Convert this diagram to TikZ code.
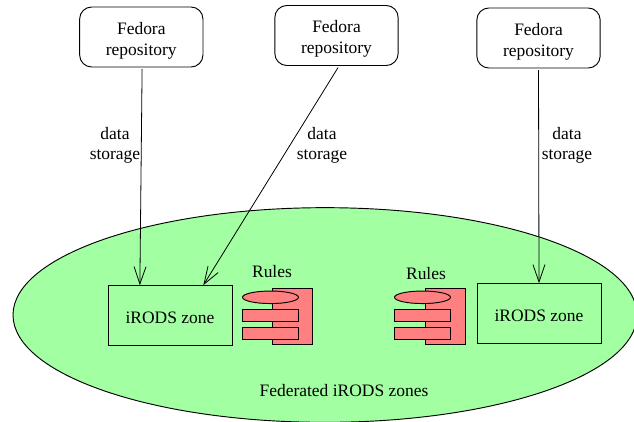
\documentclass[tikz,border=0pt]{standalone}
\usepackage{fontspec}
\setmainfont{Liberation Serif}
\usetikzlibrary{arrows.meta, positioning, shapes.geometric}

\definecolor{zonegreen}{HTML}{A2FFA2}
\definecolor{rulered}{HTML}{FF8080}

\newcommand{\fedorarepo}{\rule{0pt}{14.6pt}Fedora\\repository}

\begin{document}
\begin{tikzpicture}[
    x=0.75pt,
    y=-0.75pt,
    font=\fontsize{13.1}{15.6}\selectfont,
    every node/.append style={outer sep=0pt, inner sep=0pt},
    repo/.style={draw, rounded corners=9pt, line width=0.7pt, minimum width=92.5pt, minimum height=45pt, align=center},
    zone/.style={draw, line width=0.7pt, minimum width=93pt, minimum height=45.5pt, text height=12pt},
    label/.style={align=center, font=\fontsize{13.1}{15}\selectfont},
    rulebody/.style={draw, fill=rulered, line width=0.7pt, minimum width=30pt, minimum height=42pt},
    rulebar/.style={draw, fill=rulered, line width=0.7pt, minimum width=42pt, minimum height=9pt},
    ruleoval/.style={draw, fill=rulered, ellipse, line width=0.7pt, minimum width=42pt, minimum height=9.4pt},
    store/.style={-{Straight Barb[length=13pt,width=9pt]}, line width=0.6pt}
]
   \useasboundingbox (0,0) rectangle (634,421);

   % Federation
   \node[draw, ellipse, fill=zonegreen, line width=0.7pt, minimum width=468pt, minimum height=161pt] (fed) at (325,315) {};
   \node (fedlabel) at (344,391) {Federated iRODS zones};

   % Repositories
   \node[repo] (repoa) at (141.3,37) {\fedorarepo};
   \node[repo] (repob) at (336.5,35.5) {\fedorarepo};
   \node[repo] (repoc) at (538.5,38) {\fedorarepo};

   % Zones
   \node[zone] (zonea) at (170,315.5) {iRODS zone};
   \node[zone] (zoneb) at (539,313.5) {iRODS zone};

   % Rules, left
   \node[rulebody] (bodya) at (292.7,316) {};
   \node[ruleoval] (ovala) at (270.5,297.3) {};
   \node[rulebar] (bara) at (270.5,315.6) {};
   \node[rulebar] (barb) at (270.5,333.6) {};
   \node (rulesa) at (272,272) {Rules};

   % Rules, right
   \node[rulebody] (bodyb) at (445.2,316) {};
   \node[ruleoval] (ovalb) at (422.5,297.3) {};
   \node[rulebar] (barc) at (422.5,315.6) {};
   \node[rulebar] (bard) at (422.5,333.6) {};
   \node (rulesb) at (426,274) {Rules};

   % Storage links
   \draw[store] ([xshift=0.6pt,yshift=-1.5pt]repoa.south) -- ([xshift=-22.6pt]zonea.north);
   \draw[store] ([xshift=1.2pt,yshift=-1.5pt]repob.south) -- ([xshift=25pt]zonea.north);
   \draw[store] ([yshift=-1.5pt]repoc.south) -- (zoneb.north);

   % Link labels
   \node[label] (storea) at (115,145) {data\\storage};
   \node[label] (storeb) at (322,145) {data\\storage};
   \node[label] (storec) at (567,145) {data\\storage};

\end{tikzpicture}
\end{document}
